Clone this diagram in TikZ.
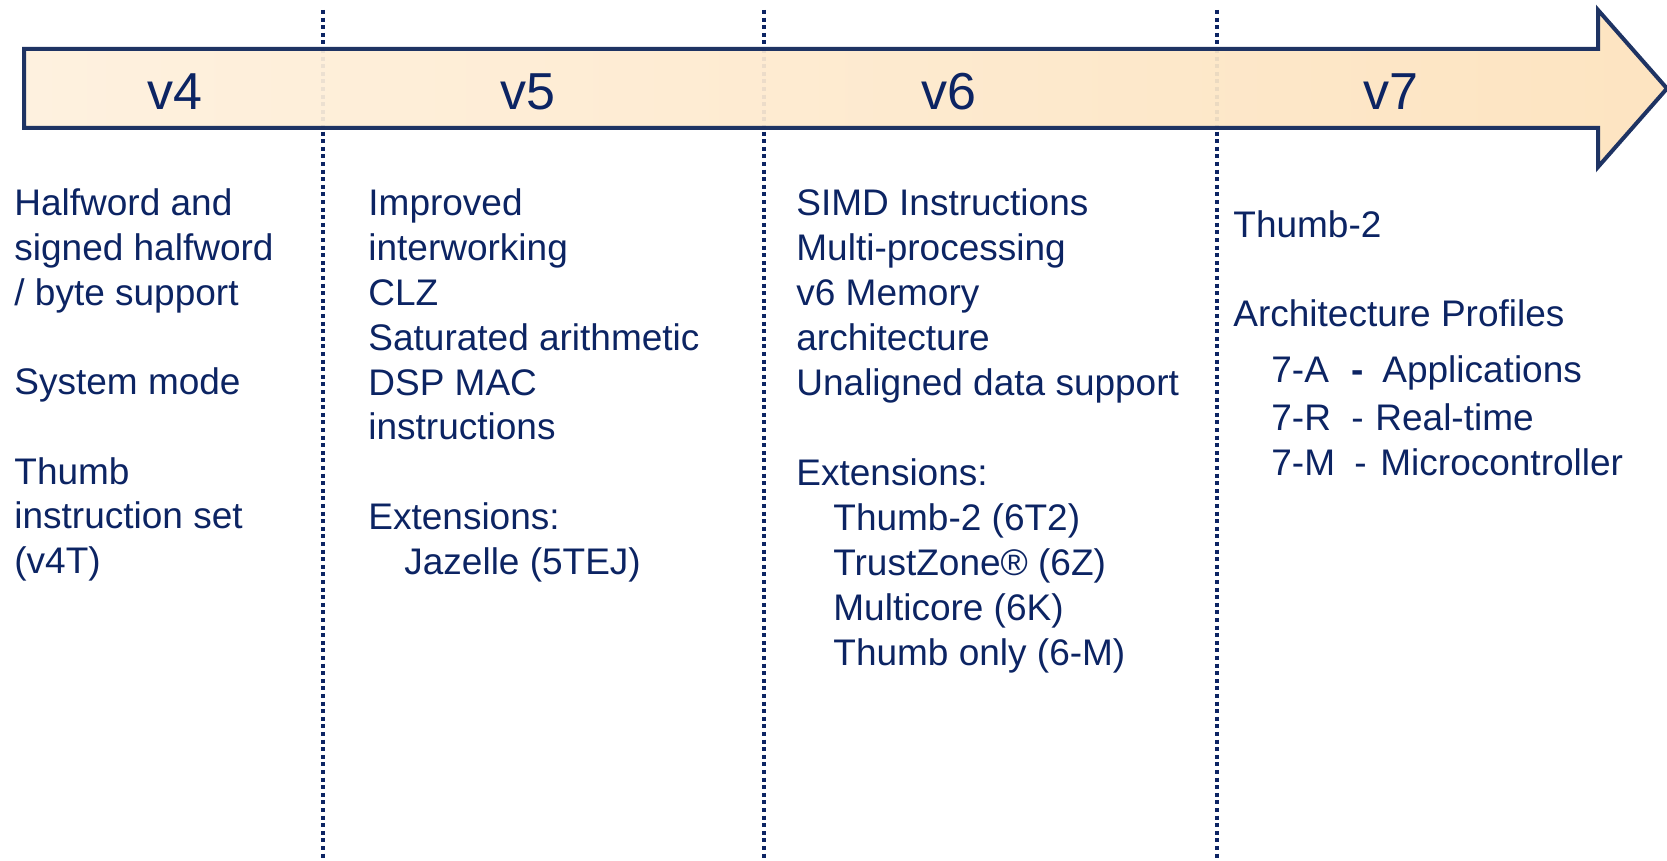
\documentclass[tikz,border=0pt]{standalone}
\usepackage{fontspec}
\setmainfont{Liberation Sans}
\definecolor{navy}{HTML}{0C2463}
\definecolor{arrowline}{HTML}{1E3363}
\definecolor{fillL}{HTML}{FEF1DF}
\definecolor{fillR}{HTML}{FDE4C1}
\begin{document}
\begin{tikzpicture}[x=0.5pt,y=-0.5pt,
  body/.style={font=\fontsize{18.5}{22}\selectfont, text=navy, inner sep=0pt, anchor=base west},
  ver/.style={font=\fontsize{26}{30}\selectfont, text=navy, inner sep=0pt, anchor=base},
  sepline/.style={draw=navy, line width=1.9pt, dash pattern=on 2pt off 1.8pt},
  faintline/.style={draw=navy, opacity=0.07, line width=1.9pt, dash pattern=on 2pt off 1.8pt},
  timeline/.style={draw=arrowline, line width=2pt, line join=miter, left color=fillL, right color=fillR}]
\useasboundingbox (0,0) rectangle (1667,861);
% separators
\coordinate (s1t) at (323,10); \coordinate (s1b) at (323,861);
\coordinate (s2t) at (764,10); \coordinate (s2b) at (764,861);
\coordinate (s3t) at (1217,10); \coordinate (s3b) at (1217,861);
\draw[sepline] (s1t) -- (s1b);
\draw[sepline] (s2t) -- (s2b);
\draw[sepline] (s3t) -- (s3b);
% arrow
\path[timeline] (24,49) -- (1598,49) -- (1598,10) -- (1667,88.5) -- (1598,167) -- (1598,128) -- (24,128) -- cycle;
\draw[faintline] (323,49) -- (323,128);
\draw[faintline] (764,49) -- (764,128);
\draw[faintline] (1217,49) -- (1217,128);
% version labels
\node[ver] (v4) at (175,110) {v4};
\node[ver] (v5) at (528,110) {v5};
\node[ver] (v6) at (949,110) {v6};
\node[ver] (v7) at (1391,110) {v7};
% column v4
\node[body] (a1) at (14,216) {Halfword and};
\node[body] (a2) at (14,260.7) {signed halfword};
\node[body] (a3) at (14,305.4) {/ byte support};
\node[body] (a4) at (14,394.8) {System mode};
\node[body] (a5) at (14,484.2) {Thumb};
\node[body] (a6) at (14,528.9) {instruction set};
\node[body] (a7) at (14,573.6) {(v4T)};
% column v5
\node[body] (b1) at (368,216) {Improved};
\node[body] (b2) at (368,260.8) {interworking};
\node[body] (b3) at (368,305.6) {CLZ};
\node[body] (b4) at (368,350.4) {Saturated arithmetic};
\node[body] (b5) at (368,395.2) {DSP MAC};
\node[body] (b6) at (368,440) {instructions};
\node[body] (b7) at (368,529.6) {Extensions:};
\node[body] (b8) at (404,574.4) {Jazelle (5TEJ)};
% column v6
\node[body] (c1) at (796,216) {SIMD Instructions};
\node[body] (c2) at (796,260.9) {Multi-processing};
\node[body] (c3) at (796,305.8) {v6 Memory};
\node[body] (c4) at (796,350.7) {architecture};
\node[body] (c5) at (796,395.6) {Unaligned data support};
\node[body] (c6) at (796,485.4) {Extensions:};
\node[body] (c7) at (833,530.3) {Thumb-2 (6T2)};
\node[body] (c8) at (833,575.2) {TrustZone® (6Z)};
\node[body] (c9) at (833,620.1) {Multicore (6K)};
\node[body] (c10) at (833,665) {Thumb only (6-M)};
% column v7
\node[body] (d1) at (1233,238) {Thumb-2};
\node[body] (d2) at (1233,327) {Architecture Profiles};
\node[body] (d3) at (1271,383) {7-A};
\node[body] (d3d) at (1351,383) {\textbf{-}};
\node[body] (d3t) at (1382,383) {Applications};
\node[body] (d4) at (1271,430) {7-R};
\node[body] (d4d) at (1351,430) {-};
\node[body] (d4t) at (1375,430) {Real-time};
\node[body] (d5) at (1271,475) {7-M};
\node[body] (d5d) at (1354,475) {-};
\node[body] (d5t) at (1380,475) {Microcontroller};
\end{tikzpicture}
\end{document}
